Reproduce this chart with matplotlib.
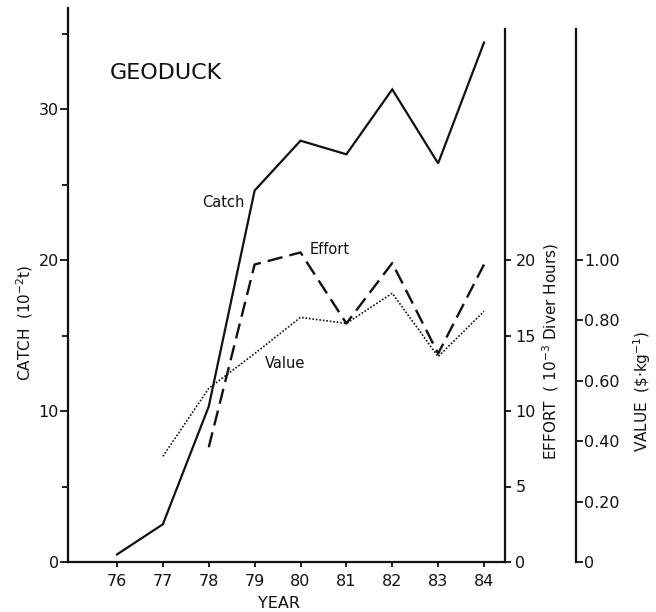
import matplotlib
matplotlib.use("Agg")
import matplotlib.pyplot as plt
from matplotlib.ticker import FixedLocator

plt.rcParams['font.family'] = ['DejaVu Sans']
plt.rcParams['mathtext.default'] = 'regular'

# ---- data ----
catch_years = [76, 77, 78, 79, 80, 81, 82, 83, 84]
catch_vals = [0.5, 2.5, 10.3, 24.6, 27.9, 27.0, 31.3, 26.4, 34.4]      # 10^-2 t

effort_years = [78, 79, 80, 81, 82, 83, 84]
effort_vals = [7.6, 19.7, 20.5, 15.8, 19.8, 13.8, 19.7]                 # 10^-3 diver hours

value_years = [77, 78, 79, 80, 81, 82, 83, 84]
value_vals = [0.35, 0.575, 0.69, 0.81, 0.79, 0.89, 0.68, 0.83]          # $ / kg

year_ticks = [76, 77, 78, 79, 80, 81, 82, 83, 84]
catch_major = [0, 10, 20, 30]
catch_minor = [5, 15, 25, 35]
effort_ticks = [0, 5, 10, 15, 20]
value_ticks = [0, 0.2, 0.4, 0.6, 0.8, 1.0]
value_labels = ['0', '0.20', '0.40', '0.60', '0.80', '1.00']

# ---- layout ----
W, H = 656, 612
fig = plt.figure(figsize=(W / 100, H / 100), dpi=100)
fig.patch.set_facecolor('white')
ink = '#111111'

x0, x1, y0, y1 = 68, 505, 562, 8
ax = fig.add_axes([x0 / W, (H - y0) / H, (x1 - x0) / W, (y0 - y1) / H])
ppu = 15.1                                  # pixels per catch unit
xppy = 45.875                               # pixels per year
ax.set_xlim(76 - (117 - x0) / xppy, 84 + (x1 - 484) / xppy)
ytop = (y0 - y1) / ppu
ax.set_ylim(0, ytop)

for s in ['top', 'right']:
    ax.spines[s].set_visible(False)
for s in ['left', 'bottom']:
    ax.spines[s].set_linewidth(1.6)
    ax.spines[s].set_color(ink)

ax.xaxis.set_major_locator(FixedLocator(year_ticks))
ax.set_xticklabels([str(y) for y in year_ticks])
ax.yaxis.set_major_locator(FixedLocator(catch_major))
ax.yaxis.set_minor_locator(FixedLocator(catch_minor))
ax.tick_params(axis='x', direction='out', length=3.5, width=1.3, pad=5.5,
               labelsize=11.5, colors=ink)
ax.tick_params(axis='y', which='major', direction='out', length=6, width=1.3,
               pad=0.5, labelsize=11.5, colors=ink)
ax.tick_params(axis='y', which='minor', direction='out', length=4, width=1.3, colors=ink)

# effort axis
ax2 = ax.twinx()
ax2.set_ylim(0, ytop)
for s in ['top', 'left', 'bottom']:
    ax2.spines[s].set_visible(False)
ax2.spines['right'].set_linewidth(1.6)
ax2.spines['right'].set_color(ink)
spine_top = (y0 - 29) / ppu
ax2.spines['right'].set_bounds(0, spine_top)
ax2.yaxis.set_major_locator(FixedLocator(effort_ticks))
ax2.set_yticklabels([str(v) for v in effort_ticks])
ax2.tick_params(axis='y', direction='out', length=4, width=1.3, pad=3.5,
                labelsize=11.5, colors=ink)

# value axis
ax3 = ax.twinx()
ax3.set_ylim(0, ytop / 20)
for s in ['top', 'left', 'bottom']:
    ax3.spines[s].set_visible(False)
ax3.spines['right'].set_position(('outward', (576 - x1) * 0.72))
ax3.spines['right'].set_linewidth(1.6)
ax3.spines['right'].set_color(ink)
ax3.spines['right'].set_bounds(0, spine_top / 20)
ax3.yaxis.set_major_locator(FixedLocator(value_ticks))
ax3.set_yticklabels(value_labels)
ax3.tick_params(axis='y', direction='out', length=5, width=1.3, pad=0.8,
                labelsize=11.5, colors=ink)

# ---- series ----
ax.plot(catch_years, catch_vals, color=ink, lw=1.6, solid_joinstyle='miter')
ax2.plot(effort_years, effort_vals, color=ink, lw=1.7, dashes=(6.5, 3))
ax3.plot(value_years, value_vals, color=ink, lw=1.2, linestyle=(0, (1, 1.1)))

# ---- text ----
def ftext(px, py, s, **kw):
    fig.text(px / W, 1 - py / H, s, color=ink, **kw)

ftext(110, 73, 'GEODUCK', fontsize=16, ha='left', va='center')
ftext(202, 203, 'Catch', fontsize=10.5, ha='left', va='center')
ftext(310, 250, 'Effort', fontsize=10.5, ha='left', va='center')
ftext(265, 364, 'Value', fontsize=10.5, ha='left', va='center')

ftext(25, 323, r'CATCH  (10$^{-2}$t)', fontsize=11, rotation=90, ha='center', va='center')
ftext(551, 352, r'EFFORT  ( 10$^{-3}$ Diver Hours)', fontsize=11, rotation=90,
      ha='center', va='center')
ftext(642, 391, r'VALUE  (\$·kg$^{-1}$)', fontsize=11, rotation=90, ha='center', va='center')
ftext(279, 604, 'YEAR', fontsize=11.5, ha='center', va='center')

fig.savefig('out.png', dpi=100, facecolor='white')
